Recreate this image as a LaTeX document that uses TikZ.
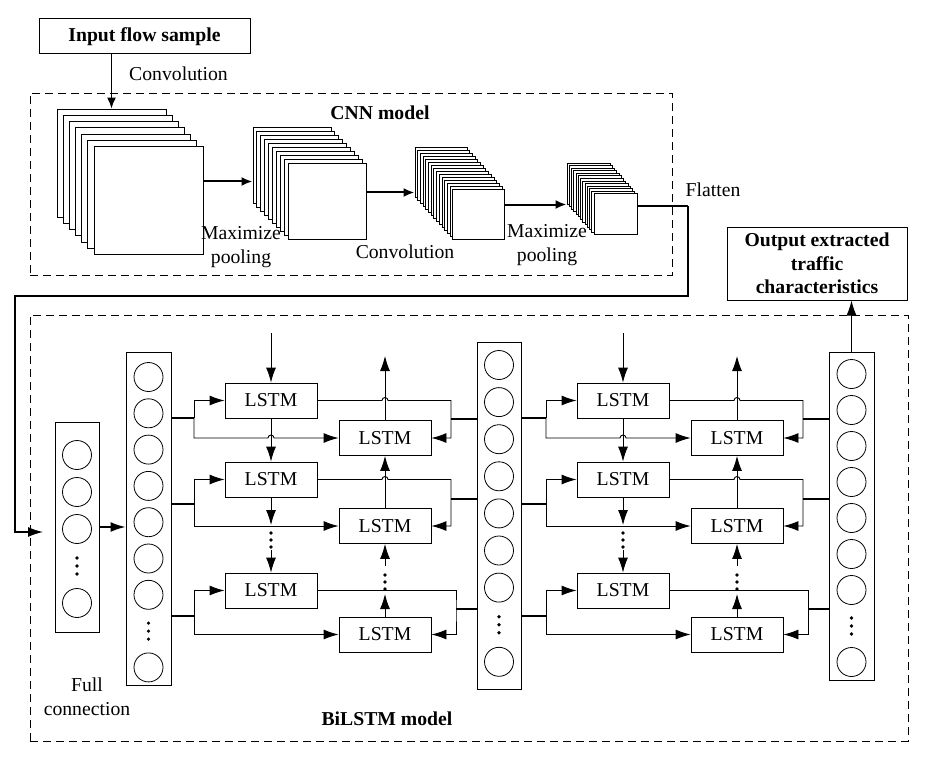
\documentclass[tikz,border=0pt]{standalone}
\usepackage{fontspec}
\setmainfont{Liberation Serif}
\usetikzlibrary{arrows.meta}

\begin{document}
\begin{tikzpicture}[x=1pt,y=-1pt,>={Latex[length=15pt,width=10pt]},line width=0.9pt,
    font=\fontsize{19.7}{23.5}\selectfont,
    fmap/.style={draw,fill=white,inner sep=0pt,line width=1pt},
    lstm/.style={draw,fill=white,minimum width=92pt,minimum height=35pt,inner sep=0pt},
    vec/.style={draw,line width=1pt,inner sep=0pt},
    unit/.style={draw,circle,minimum size=29pt,inner sep=0pt,line width=0.8pt},
    modelbox/.style={draw,dash pattern=on 8pt off 5pt,inner sep=0pt},
    thickline/.style={line width=2pt},
    maparrow/.style={-{Latex[length=11pt,width=9pt]},thickline},
    boldlbl/.style={font=\fontsize{19.7}{23.5}\selectfont\bfseries},
    txtbox/.style={draw,line width=1pt,align=center,boldlbl}]
  \useasboundingbox (0,0) rectangle (928,760);

  % dashed model frames
  \node[modelbox,minimum width=642pt,minimum height=182pt] (cnnbox) at (351,184) {};
  \node[modelbox,minimum width=878pt,minimum height=426pt] (bilstmbox) at (469,528) {};

  % input and output
  \node[txtbox,minimum width=211pt,minimum height=35pt] (input) at (144.5,36.5) {Input flow sample};
  \node[txtbox,minimum width=180pt,minimum height=73pt] (output) at (817,263.5) {Output extracted\\traffic\\characteristics};

  % feature map stacks
  \foreach \s/\n/\cx/\cy/\w/\h/\dx/\dy in {conv1/6/111.5/163/109/108/6.17/6.33,
      pool1/9/292/165/78/76/3.89/4.11, conv2/14/441/172/52/50/2.71/3,
      pool2/12/588.5/183.5/43/41/2.25/2.58}
    \foreach \i in {0,...,\n}
      \node[fmap,minimum width=\w pt,minimum height=\h pt] (\s-\i) at ({\cx+\i*\dx},{\cy+\i*\dy}) {};

  \draw[maparrow,line width=1.4pt] (input.south -| conv1-0.north) -- (conv1-0.north);
  \draw[maparrow] ([yshift=-35pt]conv1-6.north east) coordinate (a1) -- (a1 -| pool1-0.west);
  \draw[maparrow] ([yshift=-29pt]pool1-9.north east) coordinate (a2) -- (a2 -| conv2-0.west);
  \draw[maparrow] ([yshift=-16pt]conv2-14.north east) coordinate (a3) -- (a3 -| pool2-0.west);

  % labels
  \node (conv1lbl) at (178.5,73.5) {Convolution};
  \node[boldlbl] (cnnlbl) at (380,113) {CNN model};
  \node[align=center] (pool1lbl) at (241,247) {Maximize\\pooling};
  \node (conv2lbl) at (405,252) {Convolution};
  \node[align=center] (pool2lbl) at (547,245) {Maximize\\pooling};
  \node (flatlbl) at (713,190) {Flatten};
  \node[align=center] (fclbl) at (87,697) {Full\\connection};
  \node[boldlbl] (bilstmlbl) at (387,719) {BiLSTM model};

  % flatten and feed back
  \coordinate (flatcorner) at (688,206);
  \coordinate (loopback) at (15,296);
  \coordinate (fcin) at (43,532);
  \draw[thickline] (pool2-12.east |- flatcorner) -- (flatcorner);
  \draw[->,line width=1.3pt] (flatcorner) |- (loopback) |- (fcin);

  % vectors
  \node[vec,minimum width=44pt,minimum height=210pt] (v1) at (77,527) {};
  \node[vec,minimum width=45pt,minimum height=333pt] (v2) at (148.5,518.5) {};
  \node[vec,minimum width=44pt,minimum height=347pt] (v3) at (499,515.5) {};
  \node[vec,minimum width=45pt,minimum height=328pt] (v4) at (851.5,516) {};
  \foreach \k in {0,1,2,4}
    \node[unit] (v1-\k) at (77,{455+37*\k}) {};
  \foreach \d in {-8,0,8}
    \fill (77,{566+\d}) circle (1.8pt);
  \foreach \v/\x/\y/\s in {v2/148.5/377/36.3, v3/499/365/37.1, v4/851.5/374/36} {
    \foreach \k in {0,...,6,8}
      \node[unit] (\v-\k) at (\x,{\y+\s*\k}) {};
    \foreach \d in {-8,0,8}
      \fill (\x,{\y+7*\s+\d}) circle (1.8pt);
  }
  \draw[->,line width=1.5pt] (v1) -- (v1 -| v2.west);
  \draw[->] (v4.north) -- (v4.north |- output.south);

  % two BiLSTM layers
  \foreach \g/\src/\dst/\sx in {l/v2/v3/0, r/v3/v4/352} {
    \begin{scope}[xshift=\sx pt]
      \node[lstm] (\g a1) at (271,400.5) {LSTM};
      \node[lstm] (\g b1) at (385,438) {LSTM};
      \node[lstm] (\g a2) at (271,479.5) {LSTM};
      \node[lstm] (\g b2) at (385,526) {LSTM};
      \node[lstm] (\g a3) at (271,590.5) {LSTM};
      \node[lstm] (\g b3) at (385,634.5) {LSTM};
      \coordinate (\g in) at (271,333);
      \coordinate (\g out) at (385,356);
      \coordinate (\g s1) at (194,418);
      \coordinate (\g s2) at (194,504);
      \coordinate (\g s3) at (194,616);
      \coordinate (\g j1) at (451,419);
      \coordinate (\g j2) at (451,499);
      \coordinate (\g j3) at (456,609);
      \coordinate (\g h1) at (268,438);
      \coordinate (\g h2) at (382,400.5);
      \coordinate (\g h3) at (382,479.5);
      \coordinate (\g da) at (271,525);
      \coordinate (\g db) at (271,550);
      \coordinate (\g dc) at (385,594);
      \coordinate (\g dd) at (385,566);
      \foreach \d in {533,540,547}
        \fill (271,\d) circle (1.8pt);
      \foreach \d in {575,582,589}
        \fill (385,\d) circle (1.8pt);
    \end{scope}
    % forward direction
    \draw[->] (\g in) -- (\g a1);
    \draw[->] (\g a1) -- (\g a2);
    \draw[->] (\g a2) -- (\g da);
    \draw[->] (\g db) -- (\g a3);
    % backward direction
    \draw[->] (\g b3) -- (\g dc);
    \draw[->] (\g dd) -- (\g b2);
    \draw[->] (\g b2) -- (\g b1);
    \draw[->] (\g b1) -- (\g out);
    % inputs from the left vector
    \draw[thickline] (\src.east |- \g s1) -- (\g s1);
    \draw[thickline] (\src.east |- \g s2) -- (\g s2);
    \draw[thickline] (\src.east |- \g s3) -- (\g s3);
    \draw[->] (\g s1) |- (\g a1);
    \draw[->] (\g s1) |- (\g h1) arc[start angle=180,end angle=0,radius=3pt] -- (\g b1);
    \draw[->] (\g s2) |- (\g a2);
    \draw[->] (\g s2) |- (\g b2);
    \draw[->] (\g s3) |- (\g a3);
    \draw[->] (\g s3) |- (\g b3);
    % outputs to the right vector
    \draw[->] (\g a1) -- (\g h2) arc[start angle=180,end angle=0,radius=3pt] -- (\g a1 -| \g j1) |- (\g b1);
    \draw[->] (\g a2) -- (\g h3) arc[start angle=180,end angle=0,radius=3pt] -- (\g a2 -| \g j2) |- (\g b2);
    \draw[->] (\g a3) -| (\g j3) |- (\g b3);
    \draw[thickline] (\dst.west |- \g j1) -- (\g j1);
    \draw[thickline] (\dst.west |- \g j2) -- (\g j2);
    \draw[thickline] (\dst.west |- \g j3) -- (\g j3);
  }
\end{tikzpicture}
\end{document}
